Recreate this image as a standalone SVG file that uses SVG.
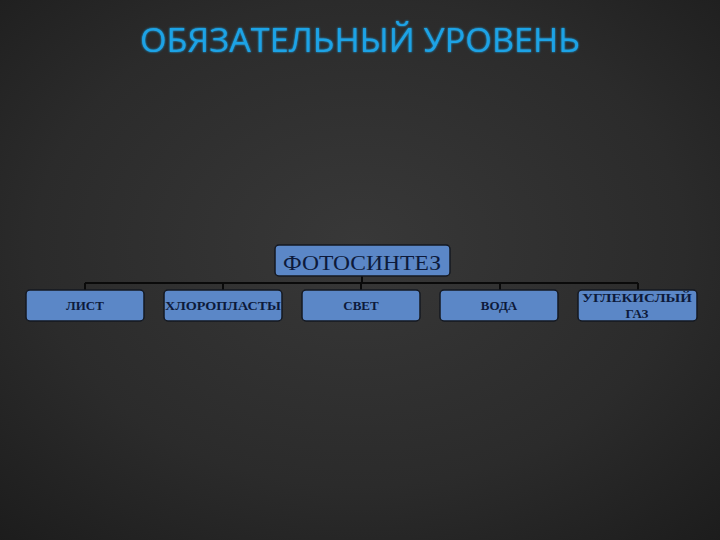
<svg xmlns="http://www.w3.org/2000/svg" width="720" height="540" viewBox="0 0 720 540">
<defs>
<radialGradient id="bg" cx="0.5" cy="0.45" r="0.75">
<stop offset="0" stop-color="#383838"/>
<stop offset="0.6" stop-color="#2b2b2b"/>
<stop offset="1" stop-color="#1c1c1c"/>
</radialGradient>
<filter id="glow" x="-10%" y="-30%" width="120%" height="160%">
<feGaussianBlur stdDeviation="1.2" result="b"/>
<feMerge><feMergeNode in="b"/><feMergeNode in="SourceGraphic"/></feMerge>
</filter>
</defs>
<style>
.box{fill:#5b87c7;stroke:#141820;stroke-width:1.5}
.lbl{font-family:"Liberation Serif","Times New Roman",serif;fill:#0d1a3a;text-anchor:middle}
.small{font-size:13px;font-weight:bold}
.conn{stroke:#0a0a0a;stroke-width:2;fill:none}
</style>
<rect width="720" height="540" fill="url(#bg)"/>
<text x="360" y="52" font-family="'Open Sans','Noto Sans',sans-serif" font-size="32" fill="#1ea3e6" text-anchor="middle" textLength="440" lengthAdjust="spacingAndGlyphs" filter="url(#glow)">ОБЯЗАТЕЛЬНЫЙ УРОВЕНЬ</text>
<g id="connectors">
<path class="conn" d="M362 276V283M85 283H638M85 283V290M223 283V290M361 283V290M500 283V290M638 283V290"/>
</g>
<g id="node-root">
<rect class="box" x="275" y="245" width="175" height="31" rx="4"/>
<text class="lbl" x="362" y="270" font-size="22" textLength="158" lengthAdjust="spacingAndGlyphs">ФОТОСИНТЕЗ</text>
</g>
<g id="node-list">
<rect class="box" x="26" y="290" width="118" height="31" rx="4"/>
<text class="lbl small" x="85" y="310">ЛИСТ</text>
</g>
<g id="node-chloro">
<rect class="box" x="164" y="290" width="118" height="31" rx="4"/>
<text class="lbl small" x="223" y="310" textLength="116" lengthAdjust="spacingAndGlyphs">ХЛОРОПЛАСТЫ</text>
</g>
<g id="node-svet">
<rect class="box" x="302" y="290" width="118" height="31" rx="4"/>
<text class="lbl small" x="361" y="310">СВЕТ</text>
</g>
<g id="node-voda">
<rect class="box" x="440" y="290" width="118" height="31" rx="4"/>
<text class="lbl small" x="499" y="310">ВОДА</text>
</g>
<g id="node-gas">
<rect class="box" x="578" y="290" width="119" height="31" rx="4"/>
<text class="lbl small" x="637" y="302" textLength="110" lengthAdjust="spacingAndGlyphs">УГЛЕКИСЛЫЙ</text>
<text class="lbl small" x="637" y="318">ГАЗ</text>
</g>
</svg>
